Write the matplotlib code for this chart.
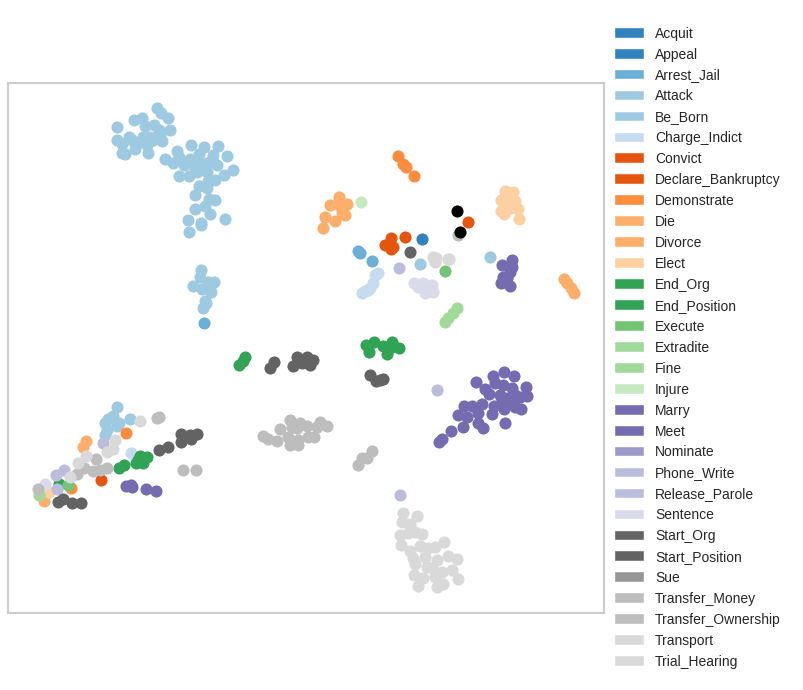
import matplotlib
matplotlib.use("Agg")
import matplotlib.pyplot as plt
from matplotlib.patches import Patch

plt.rcParams["font.family"] = ["Liberation Sans", "DejaVu Sans"]

# embedding coordinates
acquit = [(422.3, 239.3)]
arrest_jail = [(204.3, 323.3), (358.3, 251.3), (360, 252.7), (372.3, 261)]
attack = [
    (157.3, 108.3), (160.7, 113.3), (168.3, 118.3), (134.3, 120), (142.3, 118), (145, 126),
    (154, 125), (159, 130), (170.3, 130), (117.3, 127.3), (129.3, 136.7), (117.3, 140),
    (122.3, 144), (131.7, 140), (140, 141.7), (143.3, 136.7), (150, 136.7), (156.7, 138.3),
    (161.7, 140.7), (147.3, 145), (135.3, 149.3), (148.3, 152.7), (122.3, 153.3), (125, 154.3),
    (153.3, 140), (160, 135), (191.3, 145.3), (204.3, 147.3), (218.3, 146), (227.3, 156),
    (176.7, 151.3), (179.3, 156.7), (165.3, 159.3), (173.3, 163.3), (184.3, 164.7), (190, 159.3),
    (193.3, 165), (199.3, 154), (212.7, 155), (200, 163.3), (206.7, 162.7), (211.7, 160),
    (217.3, 165.3), (232.7, 170), (224.3, 175), (214.7, 180), (206.7, 172), (197.3, 171.7),
    (189, 176), (179, 176.3), (208.3, 180.7), (199.3, 185.7), (206.7, 188.3), (195.3, 195.3),
    (209, 199.3), (215.3, 200.3), (205.3, 205.7), (195.3, 209.3), (210.3, 214.3), (225.3, 219.3),
    (188.3, 220.3), (200.7, 223.3), (201, 225), (189.3, 232.3), (201.3, 270.3), (200.3, 276.7),
    (193.3, 286.3), (202, 289.3), (208.3, 281.7), (213.7, 282), (211.3, 292.3), (204.7, 301),
    (206.3, 303.3), (203.3, 308.3), (117, 407), (113.3, 416), (108.3, 419.3), (105.3, 423.3),
    (119.3, 423.3), (116.7, 426), (107.3, 430), (105, 435), (130.3, 419.3), (420.3, 264.3),
    (490.3, 257.3),
]
charge_indict = [
    (378.3, 273.3), (375, 275), (373.3, 283.3), (370, 288.3), (365, 290.7), (362.3, 293.3),
    (368.3, 290), (131.3, 453.3),
]
convict = [
    (468.3, 222.3), (391.3, 238.3), (405.3, 237.3), (385.3, 245.3), (390, 246.7), (393.3, 247.3),
    (391.3, 249.3), (101.3, 480.3),
]
demonstrate = [
    (398.3, 156.3), (403.3, 164), (406, 167.3), (413.7, 176.3), (126.3, 433.3), (70.7, 488.3),
]
die = [
    (339.3, 196.7), (347.3, 204.3), (330.3, 205.3), (325.3, 217.3), (335.3, 221.3), (322.7, 228),
    (345, 215.3), (341.7, 211.7), (339.3, 205), (343.3, 208.3), (564, 279), (567.3, 283.3),
    (570.7, 288.3), (574, 292.7), (85.7, 441), (83.3, 446.7), (44.3, 500.7),
]
elect = [
    (505, 190.7), (513.3, 191.7), (500.7, 200), (510, 199.3), (515, 200.7), (518.3, 209.3),
    (500.7, 211.3), (504.3, 214), (510, 208.3), (519, 218.7), (506.7, 205), (49.3, 492.3),
]
end_org = [(59.3, 483.7)]
end_position = [
    (245, 357.3), (242.7, 360.7), (239.3, 365), (366, 345), (374, 342.3), (382.7, 345.7),
    (391.7, 342), (399, 348.3), (369.3, 351.7), (386.7, 354), (390, 348.3), (119.3, 467.7),
    (124, 465.3), (140.3, 456), (147.3, 457.3), (135.7, 463.3), (143.3, 462.7), (138.3, 460),
]
execute = [(445.3, 270.7), (67.7, 485.3)]
fine = [(457, 308.3), (453.3, 312.7), (447.7, 318.3), (445, 322.3), (39.3, 495.3)]
injure = [(361.3, 202.3)]
marry = [
    (512.3, 260), (502, 265.3), (511.7, 266.7), (510, 271.7), (503.3, 276.7), (506.7, 278.3),
    (500.7, 283.3), (510, 285.7), (505, 281.7),
]
meet = [
    (504.3, 372), (493.3, 376.3), (514.3, 376.3), (476.3, 382), (485, 388.7), (489, 394.3),
    (495.3, 383.3), (503.3, 385), (511.7, 387.7), (526, 386.7), (527.3, 396), (500, 395),
    (506.7, 398.3), (515, 395), (520, 396.7), (501.7, 400), (511.7, 401.7), (494, 405.7),
    (482.3, 404.3), (464.3, 406), (472.3, 406), (515, 406.7), (521, 409.3), (504, 409.3),
    (492.3, 414.3), (458.3, 415), (466.7, 417.3), (478.3, 413.3), (478.3, 422.7), (483.3, 428.3),
    (463.3, 427), (504.7, 422.7), (451.3, 431), (442.3, 439), (439.3, 442.3), (126, 486.3),
    (130.7, 485.3), (131.7, 487.3), (146.3, 489.3), (156.3, 491.3),
]
phone_write = [
    (399.3, 268.3), (437.3, 390.3), (400.3, 495.3), (103.3, 443.3), (64.3, 470), (55.7, 475.3),
    (56.7, 489),
]
sentence = [
    (414.3, 283.3), (422.7, 283.3), (431.7, 285), (418.3, 287.3), (425, 292.7), (433.3, 291.7),
    (426.7, 288.3), (45.3, 484),
]
start_org = [
    (274, 362), (270, 368.3), (297, 356.7), (307.3, 356.7), (313.3, 360), (293.3, 365.7),
    (301.7, 363.3), (310, 365), (305, 361.7), (370, 375), (376, 380.7), (383.3, 378.7),
    (380, 380), (410, 251.7), (159, 450.3), (167.7, 447.3), (181, 434), (190, 435),
    (196.7, 434.3), (181.3, 441.7), (190.7, 439.3), (58.3, 501.7), (62.7, 499.3), (72.3, 502.7),
    (81, 502.7),
]
transfer_money = [
    (290.3, 420), (300, 422.7), (306.7, 426.3), (320, 422), (326.7, 426.3), (317.3, 426.7),
    (280, 429), (291.7, 426.7), (296.7, 427.7), (263.3, 436), (268.3, 439), (277.3, 440.7),
    (288.3, 436.7), (290, 445), (298.3, 440), (298.3, 445), (308.3, 436.7), (314.3, 437.3),
    (371.7, 450.7), (366.7, 458.3), (361.7, 458.3), (358.3, 465), (157.3, 418.3), (159.3, 417.3),
    (96.3, 459.3), (84.3, 468.3), (93.3, 471), (100, 470.3), (106.7, 468.3), (76.7, 474.3),
    (183.3, 470), (196.3, 470.3), (38, 488.7), (458, 234.7),
]
transport = [
    (432.7, 257), (436, 258.3), (435, 261.7), (449.3, 259), (448.3, 259.3), (403.3, 512.7),
    (416.7, 515.7), (402.3, 521.7), (410, 524), (400, 535), (408.3, 533.3), (415, 531.7),
    (421.7, 534), (400.7, 545), (410, 551), (412.7, 558.3), (415, 564.3), (420, 545.7),
    (428.3, 548.3), (435, 546.7), (444.3, 542), (425, 557.3), (436.7, 560), (448.3, 556),
    (457.3, 559), (414, 575.3), (426.7, 567.3), (423.3, 578.3), (417.7, 586), (435, 576.7),
    (441.7, 571.7), (451.7, 570), (457.7, 579), (443.3, 584), (436.7, 586.7), (431.7, 568.3),
    (139.7, 421.3), (115, 440), (112.7, 449.3), (107.3, 451.7), (86.3, 455.7), (78.3, 463),
    (70, 476.7),
]
unlabelled = [(457.3, 210.7), (459.7, 232)]

labels = [
    "Acquit", "Appeal", "Arrest_Jail", "Attack", "Be_Born", "Charge_Indict", "Convict",
    "Declare_Bankruptcy", "Demonstrate", "Die", "Divorce", "Elect", "End_Org", "End_Position",
    "Execute", "Extradite", "Fine", "Injure", "Marry", "Meet", "Nominate", "Phone_Write",
    "Release_Parole", "Sentence", "Start_Org", "Start_Position", "Sue", "Transfer_Money",
    "Transfer_Ownership", "Transport", "Trial_Hearing",
]
colors = [
    "#3182bd", "#3182bd", "#6baed6", "#9ecae1", "#9ecae1", "#c6dbef", "#e6550d",
    "#e6550d", "#fd8d3c", "#fdae6b", "#fdae6b", "#fdd0a2", "#31a354", "#31a354",
    "#74c476", "#a1d99b", "#a1d99b", "#c7e9c0", "#756bb1", "#756bb1", "#9e9ac8", "#bcbddc",
    "#bcbddc", "#dadaeb", "#636363", "#636363", "#969696", "#bdbdbd",
    "#bdbdbd", "#d9d9d9", "#d9d9d9",
]
color_of = dict(zip(labels, colors))

series = [
    ("Acquit", acquit), ("Arrest_Jail", arrest_jail), ("Attack", attack),
    ("Charge_Indict", charge_indict), ("Convict", convict), ("Demonstrate", demonstrate),
    ("Die", die), ("Elect", elect), ("End_Org", end_org), ("End_Position", end_position),
    ("Execute", execute), ("Fine", fine), ("Injure", injure), ("Marry", marry), ("Meet", meet),
    ("Phone_Write", phone_write), ("Sentence", sentence), ("Start_Org", start_org),
    ("Transfer_Money", transfer_money), ("Transport", transport),
]

fig = plt.figure(figsize=(8.04, 6.9), dpi=100)
ax = fig.add_axes([8 / 804, 1 - 613 / 690, 596 / 804, 530 / 690])

for name, pts in series:
    ax.scatter([p[0] for p in pts], [p[1] for p in pts], s=76, color=color_of[name],
               linewidths=0, zorder=3)
ax.scatter([p[0] for p in unlabelled], [p[1] for p in unlabelled], s=76, color="black",
           linewidths=0, zorder=4)

ax.set_xlim(8, 604)
ax.set_ylim(613, 83)
ax.set_xticks([])
ax.set_yticks([])
for spine in ax.spines.values():
    spine.set_color("#cccccc")
    spine.set_linewidth(1.5)

handles = [Patch(facecolor=c, edgecolor="white", linewidth=0.3, label=l) for l, c in zip(labels, colors)]
fig.legend(handles=handles, loc="upper left", bbox_to_anchor=(609 / 804, 1 - 21 / 690),
           frameon=False, fontsize=10, labelcolor="#262626", labelspacing=0.5, borderaxespad=0,
           handlelength=2.1)

fig.savefig("out.png", dpi=100)
